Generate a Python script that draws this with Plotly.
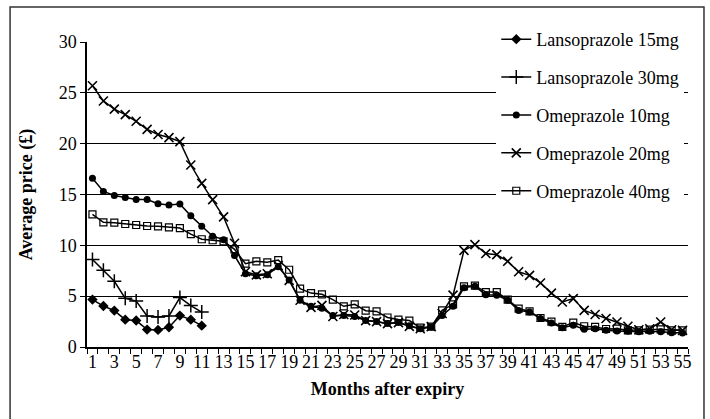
import plotly.graph_objects as go

months = list(range(1, 56))

lanso15 = [4.66, 4.03, 3.58, 2.69, 2.6, 1.71, 1.68, 1.94, 3.09, 2.69, 2.1] + [None] * 44
lanso30 = [8.6, 7.54, 6.46, 4.79, 4.52, 3.05, 2.95, 3.05, 4.86, 4.07, 3.44] + [None] * 44

omep10 = [16.6, 15.3, 14.9, 14.7, 14.5, 14.5, 14.1, 13.96, 14.06, 12.9,
          11.87, 10.9, 10.56, 9.0, 7.2, 7.0, 7.1, 7.9, 6.6, 4.6,
          4.0, 3.8, 3.1, 3.1, 3.0, 2.6, 2.5, 2.3, 2.4, 2.1,
          1.8, 1.97, 3.1, 4.0, 5.84, 5.97, 5.15, 5.1, 4.6, 3.6,
          3.45, 2.8, 2.36, 1.9, 2.13, 1.74, 1.8, 1.64, 1.58, 1.54,
          1.5, 1.54, 1.5, 1.4, 1.37]

omep20 = [25.7, 24.2, 23.4, 22.85, 22.2, 21.4, 20.9, 20.6, 20.2, 17.9,
          16.1, 14.5, 12.8, 10.2, 7.4, 7.1, 7.2, 8.0, 6.55, 4.6,
          3.9, 4.1, 3.0, 3.2, 3.15, 2.6, 2.5, 2.3, 2.4, 2.03,
          1.8, 2.0, 3.3, 5.1, 9.5, 10.07, 9.2, 9.08, 8.43, 7.4,
          7.05, 6.3, 5.3, 4.43, 4.76, 3.6, 3.2, 2.8, 2.46, 2.04,
          1.7, 1.8, 2.46, 1.7, 1.64]

omep40 = [13.05, 12.26, 12.23, 12.1, 12.0, 11.9, 11.87, 11.77, 11.7, 11.1,
          10.6, 10.5, 10.4, 9.6, 8.2, 8.43, 8.33, 8.55, 7.6, 5.74,
          5.3, 5.18, 4.66, 4.0, 4.2, 3.57, 3.5, 2.9, 2.7, 2.6,
          1.9, 2.0, 3.6, 4.2, 5.97, 6.03, 5.4, 5.4, 4.66, 3.78,
          3.5, 2.85, 2.5, 1.97, 2.4, 2.04, 1.97, 1.77, 1.8, 1.64,
          1.64, 1.7, 1.74, 1.64, 1.64]

x_tick_vals = list(range(1, 56, 2))
minor_tick_vals = [m + 0.5 for m in range(0, 56)]

FONT = "Liberation Serif, Times New Roman, serif"

series = [
    ("Lansoprazole 15mg", lanso15, dict(symbol="diamond", size=8, color="black")),
    ("Lansoprazole 30mg", lanso30, dict(symbol="cross-thin", size=10, color="black",
                                       line=dict(width=1.5, color="black"))),
    ("Omeprazole 10mg", omep10, dict(symbol="circle", size=7, color="black")),
    ("Omeprazole 20mg", omep20, dict(symbol="x-thin", size=9, color="black",
                                     line=dict(width=1.6, color="black"))),
    ("Omeprazole 40mg", omep40, dict(symbol="square-open", size=7, color="black",
                                     line=dict(width=1.2, color="black"))),
]

fig = go.Figure()
for i, (name, vals, mk) in enumerate(series):
    fig.add_trace(go.Scatter(
        x=months, y=vals, name=name, mode="lines+markers",
        line=dict(color="black", width=1.5), marker=mk,
        legendgroup=f"g{i}", connectgaps=False,
    ))

fig.update_layout(
    width=710, height=419,
    margin=dict(l=87, r=22, t=42, b=72, autoexpand=False),
    paper_bgcolor="white", plot_bgcolor="white",
    font=dict(family=FONT, size=18, color="black"),
    showlegend=True,
    legend=dict(
        x=0.681, y=1.069, xanchor="left", yanchor="top",
        bgcolor="white", borderwidth=0,
        font=dict(family=FONT, size=18, color="black"),
        tracegroupgap=11.5, itemwidth=30,
    ),
    xaxis=dict(
        range=[0.5, 55.5], tickmode="array", tickvals=x_tick_vals,
        ticktext=[str(v) for v in x_tick_vals],
        ticks="", showgrid=False, zeroline=False,
        showline=True, linecolor="black", linewidth=1.5,
        ticklabelstandoff=-2,
        tickfont=dict(family=FONT, size=18, color="black"),
        minor=dict(tickmode="array", tickvals=minor_tick_vals, ticks="outside",
                   ticklen=5, tickcolor="black", tickwidth=1, showgrid=False),
        title=dict(text="<b>Months after expiry</b>", font=dict(family=FONT, size=18),
                   standoff=11),
    ),
    yaxis=dict(
        range=[0, 30], dtick=5, tick0=0, ticks="outside", ticklen=5,
        tickcolor="black", showline=True, linecolor="black", linewidth=1.5,
        showgrid=True, gridcolor="black", gridwidth=1.4, zeroline=False,
        tickfont=dict(family=FONT, size=18, color="black"),
        title=dict(text="<b>Average price (£)</b>", font=dict(family=FONT, size=18),
                   standoff=21),
    ),
    shapes=[dict(type="rect", xref="paper", yref="paper",
                 x0=-0.128, x1=1.0266, y0=-0.27, y1=1.115,
                 line=dict(color="#333333", width=1.5))],
)

fig.write_html("out.html", config={"displayModeBar": False},
               post_script="document.body.style.margin='0';document.body.style.overflow='hidden';")
